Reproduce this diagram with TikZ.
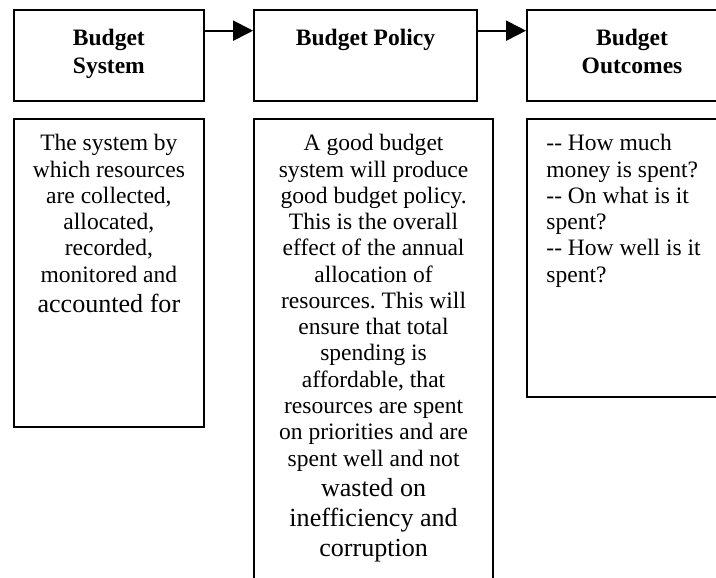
\documentclass[tikz,border=0pt]{standalone}
\usepackage{fontspec}
\setmainfont{Liberation Serif}
\usepackage{xcolor}
\usetikzlibrary{positioning,arrows.meta}
\frenchspacing

\begin{document}
\begin{tikzpicture}[x=0.51pt,y=-0.51pt,node distance=24.5pt,
    every node/.style={shape=rectangle,inner sep=0pt},
    box/.style={draw,line width=1pt},
    head/.style={align=center,font=\bfseries\fontsize{12pt}{14.3pt}\selectfont},
    body/.style={font=\fontsize{12pt}{13.4pt}\selectfont},
    flow/.style={line width=1pt,-{Triangle[length=10.2pt,width=10.2pt]}}]
  \useasboundingbox (0,0) rectangle (716,577);
  \clip (0,0) rectangle (716,577);
  \node[box,anchor=north west,minimum width=97.1pt,minimum height=46.3pt] (sys) at (12.7,9.3) {};
  \node[box,right=of sys,minimum width=113.7pt,minimum height=46.3pt] (pol) {};
  \node[box,right=of pol,minimum width=107.1pt,minimum height=46.3pt] (out) {};
  \node[box,below=8.2pt of sys.south west,anchor=north west,minimum width=97.1pt,minimum height=157.1pt] (sysBody) {};
  \node[box,below=8.2pt of pol.south west,anchor=north west,minimum width=121.9pt,minimum height=246.8pt] (polBody) {};
  \node[box,below=8.2pt of out.south west,anchor=north west,minimum width=107.1pt,minimum height=141.8pt] (outBody) {};
  \node[head,below=10pt of sys.north] (sysHead) {Budget\\System};
  \node[head,below=10pt of pol.north] (polHead) {Budget Policy};
  \node[head,below=10pt of out.north] (outHead) {Budget\\Outcomes};
  \node[body,align=center,below=8.1pt of sysBody.north] (sysText) {The system by\\which resources\\are collected,\\allocated,\\recorded,\\monitored and\\[1.9pt]{\fontsize{13.3pt}{15.3pt}\selectfont accounted for}};
  \node[body,align=center,below=8.1pt of polBody.north] (polText) {A good budget\\system will produce\\good budget policy.\\This is the overall\\effect of the annual\\allocation of\\resources. This will\\ensure that total\\spending is\\affordable, that\\resources are spent\\on priorities and are\\spent well and not\\[1.9pt]{\fontsize{13.3pt}{15.3pt}\selectfont wasted on}\\[1.9pt]{\fontsize{13.3pt}{15.3pt}\selectfont inefficiency and}\\[1.9pt]{\fontsize{13.3pt}{15.3pt}\selectfont corruption}};
  \node[body,align=left,below right=8.1pt and 10.2pt of outBody.north west] (outText) {-{}- How much\\money is spent?\\-{}- On what is it\\spent?\\-{}- How well is it\\spent?};
  \draw[flow] ([yshift=-10.9pt]sys.north east) -- ([yshift=-10.9pt]pol.north west);
  \draw[flow] ([yshift=-10.9pt]pol.north east) -- ([yshift=-10.9pt]out.north west);
\end{tikzpicture}
\end{document}
